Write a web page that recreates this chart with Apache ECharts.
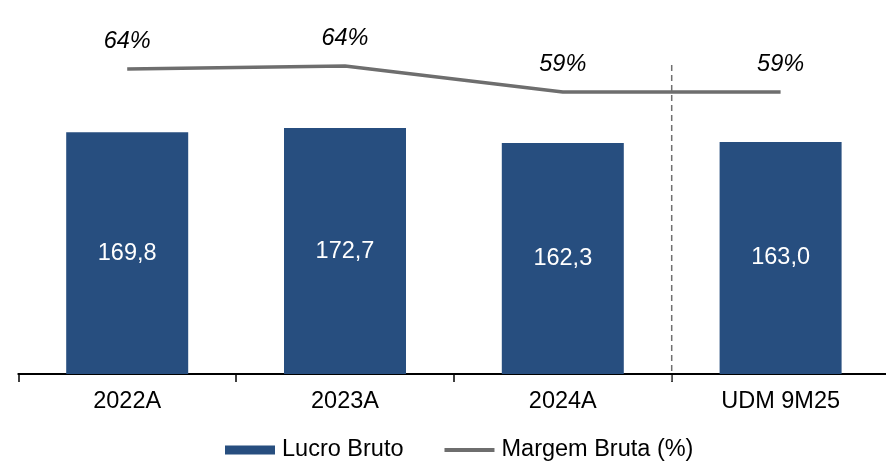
<!DOCTYPE html>
<html>
<head>
<meta charset="utf-8">
<script src="https://cdn.jsdelivr.net/npm/echarts@6/dist/echarts.min.js"></script>
<style>
html,body{margin:0;padding:0;background:#fff;overflow:hidden;}
#chart{width:892px;height:464px;}
</style>
</head>
<body>
<div id="chart"></div>
<script>
const categories = ['2022A', '2023A', '2024A', 'UDM 9M25'];
const lucroBruto = [169.8, 172.7, 162.3, 163.0];
const margemBruta = [63.8, 64.4, 59.2, 59.2];
const seriesNames = ['Lucro Bruto', 'Margem Bruta (%)'];

const FONT = '"Liberation Sans", Arial, sans-serif';
const FS = 23.5;
const chart = echarts.init(document.getElementById('chart'));

const option = {
  animation: false,
  backgroundColor: '#ffffff',
  textStyle: { fontFamily: FONT },
  grid: { left: 18.3, top: 18, width: 871.2, height: 356, containLabel: false },
  legend: {
    left: 225, top: 438, padding: 0,
    itemWidth: 50, itemHeight: 9, itemGap: 39,
    textStyle: { fontSize: FS, color: '#000', fontFamily: FONT, padding: [0, 0, 0, 2] },
    data: [
      { name: seriesNames[0], icon: 'rect' },
      { name: seriesNames[1], lineStyle: { width: 4, color: '#6E6E6E' } }
    ]
  },
  xAxis: {
    type: 'category',
    data: categories,
    axisLine: { lineStyle: { color: '#000', width: 2 } },
    axisTick: { show: true, length: 8, lineStyle: { color: '#000', width: 1.5 } },
    axisLabel: { color: '#000', fontSize: FS, margin: 16, fontFamily: FONT }
  },
  yAxis: [
    { type: 'value', min: 0, max: 250, show: false, splitLine: { show: false } },
    { type: 'value', min: 2.8, max: 74, show: false, splitLine: { show: false } }
  ],
  series: [
    {
      name: seriesNames[0],
      type: 'bar',
      data: lucroBruto,
      barWidth: 122,
      itemStyle: { color: '#274E7F' },
      label: {
        show: true, position: 'inside', color: '#fff', fontSize: FS, fontFamily: FONT,
        formatter: p => p.value.toFixed(1).replace('.', ',')
      }
    },
    {
      name: seriesNames[1],
      type: 'line',
      yAxisIndex: 1,
      data: margemBruta,
      symbol: 'circle',
      symbolSize: 1,
      showSymbol: true,
      lineStyle: { color: '#6E6E6E', width: 3.5 },
      itemStyle: { color: 'rgba(0,0,0,0)', borderWidth: 0 },
      label: {
        show: true, position: 'top', distance: 16, color: '#000', fontSize: FS,
        fontStyle: 'italic', fontFamily: FONT,
        formatter: p => Math.round(p.value) + '%'
      }
    }
  ]
};
chart.setOption(option);

const x2 = chart.convertToPixel({ xAxisIndex: 0 }, 2);
const x3 = chart.convertToPixel({ xAxisIndex: 0 }, 3);
const xm = (x2 + x3) / 2;
chart.setOption({
  graphic: [{
    type: 'line',
    shape: { x1: xm, y1: 65, x2: xm, y2: 382 },
    style: { stroke: '#707070', lineWidth: 1.5, lineDash: [6, 4] },
    z: 10
  }]
});
</script>
</body>
</html>
